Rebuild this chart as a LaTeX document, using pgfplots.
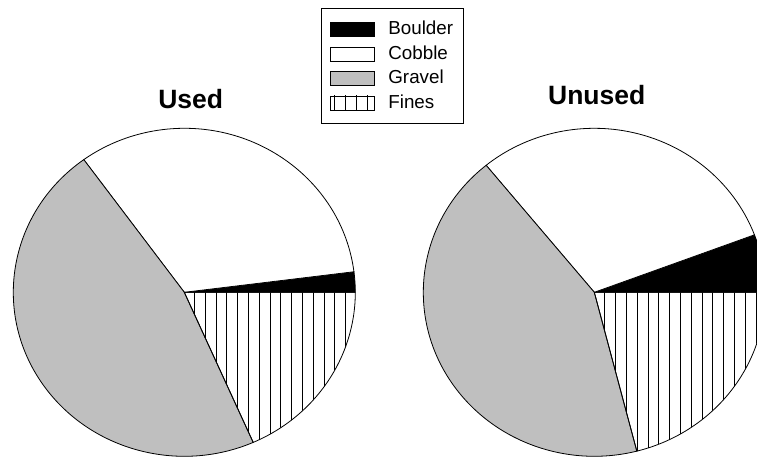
\documentclass[border=0pt]{standalone}
\usepackage{fontspec}
\setmainfont{Liberation Sans}
\usepackage{pgfplots}
\pgfplotsset{compat=1.18}
\usepackage{pgfplotstable}
\usetikzlibrary{patterns.meta}

\definecolor{gravelgray}{RGB}{191,191,191}

% percent of each substrate class
\pgfplotstableread{
cat      used  unused
Boulder  2.0   5.7
Cobble   33.0  30.2
Gravel   46.6  43.1
Fines    18.4  21.0
}\piedata

\tikzset{fines/.style={pattern={Lines[angle=90,distance=10.8pt,line width=0.9pt]}}}

% slice centred at axis point (#2,#3), from angle #4 to #5 (degrees, ccw from east)
\newcommand\slice[5]{\filldraw[overlay,draw=black,line width=0.8pt,#1] (axis cs:#2,#3) -- ++(#4:171pt and 164pt)
  arc[start angle=#4,end angle=#5,x radius=171pt,y radius=164pt] -- cycle;}

\begin{document}
\pgfplotstablegetelem{0}{used}\of\piedata\pgfmathsetmacro\uA{3.6*\pgfplotsretval}%
\pgfplotstablegetelem{1}{used}\of\piedata\pgfmathsetmacro\uB{\uA+3.6*\pgfplotsretval}%
\pgfplotstablegetelem{2}{used}\of\piedata\pgfmathsetmacro\uC{\uB+3.6*\pgfplotsretval}%
\pgfplotstablegetelem{0}{unused}\of\piedata\pgfmathsetmacro\nA{3.6*\pgfplotsretval}%
\pgfplotstablegetelem{1}{unused}\of\piedata\pgfmathsetmacro\nB{\nA+3.6*\pgfplotsretval}%
\pgfplotstablegetelem{2}{unused}\of\piedata\pgfmathsetmacro\nC{\nB+3.6*\pgfplotsretval}%
\begin{tikzpicture}
\useasboundingbox (0pt,0pt) rectangle (757pt,459pt);
\clip (0pt,0pt) rectangle (757pt,459pt);
\begin{axis}[
  hide axis, scale only axis, width=757pt, height=459pt,
  xmin=0, xmax=757, ymin=0, ymax=459,
  at={(0pt,0pt)}, anchor=south west,
  legend image code/.code={\filldraw[draw=black,line width=0.8pt,#1] (0pt,-7pt) rectangle (44pt,7pt);},
  legend style={at={(0.4236,0.9819)}, anchor=north west, draw=black, line width=0.8pt,
    font=\fontsize{18.8}{19}\selectfont, inner xsep=8.5pt, inner ysep=10.5pt,
    nodes={inner sep=2pt, text height=13.5pt, text depth=3pt},
    row sep=4pt, cells={anchor=west},
    /tikz/every odd column/.append style={column sep=12pt}},
]
\addlegendimage{fill=black}
\addlegendentry{Boulder}
\addlegendimage{fill=white}
\addlegendentry{Cobble}
\addlegendimage{fill=gravelgray}
\addlegendentry{Gravel}
\addlegendimage{fines}
\addlegendentry{Fines}

% Used
\slice{fill=black}{184.3}{166.7}{0}{\uA}
\slice{fill=white}{184.3}{166.7}{\uA}{\uB}
\slice{fill=gravelgray}{184.3}{166.7}{\uB}{\uC}
\slice{fines}{184.3}{166.7}{\uC}{360}
% Unused
\slice{fill=black}{594.3}{166.7}{0}{\nA}
\slice{fill=white}{594.3}{166.7}{\nA}{\nB}
\slice{fill=gravelgray}{594.3}{166.7}{\nB}{\nC}
\slice{fines}{594.3}{166.7}{\nC}{360}

\node[anchor=base,font=\fontsize{26.5}{30}\selectfont\bfseries] at (axis cs:190.7,350) {Used};
\node[anchor=base,font=\fontsize{26.5}{30}\selectfont\bfseries] at (axis cs:596.7,354.7) {Unused};
\end{axis}
\end{tikzpicture}
\end{document}
